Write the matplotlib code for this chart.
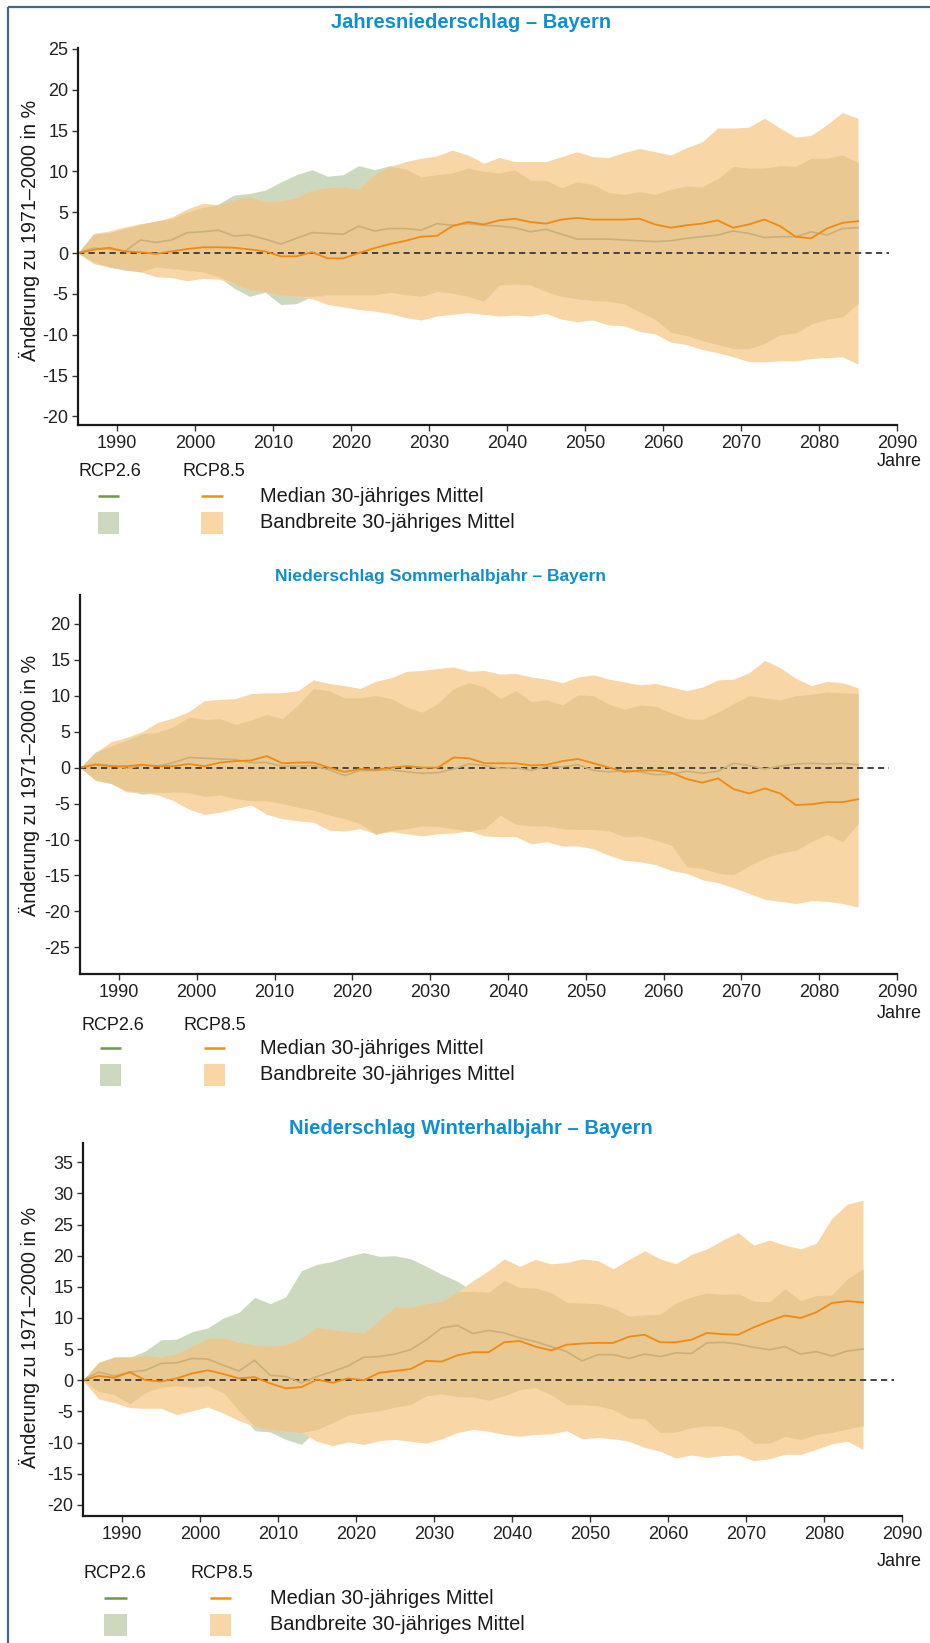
import numpy as np
import matplotlib
matplotlib.use('Agg')
import matplotlib.pyplot as plt
from matplotlib.patches import Rectangle

plt.rcParams['font.family'] = ['Liberation Sans', 'DejaVu Sans']
plt.rcParams['axes.unicode_minus'] = False

jahre = np.arange(1985, 2086, 2)

# --- Jahresniederschlag ---
jahr_85_hi = [0, 2.4, 2.7, 3.2, 3.6, 3.9, 4.4, 5.4, 6.1, 5.9, 6.5, 6.9, 6.3, 6.4, 6.8, 7.7, 8.0, 8.1, 7.8, 9.6,
              10.6, 11.2, 11.6, 11.9, 12.6, 12.0, 11.0,
              11.7, 11.2, 11.2, 11.2, 11.8, 12.4, 11.8, 11.7, 12.3, 12.8, 12.4, 12.0, 12.9, 13.6, 15.3, 15.3,
              15.4, 16.5, 15.3, 14.2, 14.4, 15.7, 17.2, 16.5]
jahr_85_lo = [0, -1.3, -1.7, -2.0, -2.3, -2.9, -3.0, -3.4, -3.1, -3.2, -3.7, -4.5, -4.7, -5.1, -5.3, -5.6, -6.3,
              -6.6, -6.9, -7.1, -7.4, -7.9, -8.2, -7.7, -7.5, -7.3, -7.5,
              -7.7, -7.6, -7.7, -7.4, -8.1, -8.4, -8.2, -8.8, -8.9, -9.6, -9.9, -10.9, -11.2, -11.8, -12.2,
              -12.7, -13.3, -13.3, -13.2, -13.2, -12.9, -12.8, -12.7, -13.6]
jahr_26_hi = [0, 2.3, 2.5, 3.0, 3.5, 3.9, 4.2, 5.0, 5.6, 6.0, 7.1, 7.3, 7.7, 8.7, 9.6, 10.2, 9.4, 9.6, 10.7, 10.2,
              10.7, 10.3, 9.3, 9.6, 9.8, 10.4, 10.0,
              9.8, 10.2, 8.9, 8.9, 8.0, 8.7, 8.4, 7.4, 7.2, 7.5, 7.2, 7.8, 8.2, 8.1, 9.1, 10.6, 10.4, 10.4,
              10.7, 10.6, 11.6, 11.6, 12.0, 11.1]
jahr_26_lo = [0, -1.1, -1.7, -2.1, -2.3, -1.7, -1.9, -2.1, -2.3, -2.9, -4.3, -5.3, -4.8, -6.3, -6.2, -5.3, -5.1,
              -5.1, -5.1, -5.1, -4.8, -5.1, -5.3, -4.7, -4.9, -5.3, -5.9,
              -3.9, -3.8, -3.9, -4.7, -5.3, -5.6, -5.8, -5.9, -6.2, -7.2, -8.1, -9.7, -10.1, -10.7, -11.2,
              -11.7, -11.7, -11.1, -10.0, -9.8, -8.7, -8.1, -7.8, -6.2]
jahr_85_med = [0, 0.4, 0.65, 0.2, 0.1, -0.1, 0.2, 0.5, 0.7, 0.7, 0.65, 0.45, 0.2, -0.4, -0.4, 0.1, -0.65, -0.65,
               0.0, 0.6, 1.1, 1.5, 2.0, 2.1, 3.3, 3.8, 3.5,
               4.0, 4.2, 3.8, 3.6, 4.1, 4.3, 4.1, 4.1, 4.1, 4.2, 3.5, 3.1, 3.4, 3.6, 4.0, 3.1, 3.5, 4.1, 3.3,
               2.0, 1.8, 3.0, 3.7, 3.9]
jahr_26_med = [0, 0.6, 0.5, 0.2, 1.6, 1.3, 1.6, 2.5, 2.6, 2.8, 2.1, 2.2, 1.7, 1.1, 1.8, 2.5, 2.4, 2.3, 3.3, 2.7,
               3.0, 3.0, 2.8, 3.6, 3.4, 3.6, 3.4,
               3.3, 3.1, 2.6, 2.9, 2.3, 1.7, 1.7, 1.7, 1.6, 1.5, 1.4, 1.5, 1.8, 2.0, 2.2, 2.7, 2.4, 1.9, 2.0,
               2.0, 2.6, 2.2, 3.0, 3.1]

# --- Sommerhalbjahr ---
som_85_hi = [0, 2.1, 3.6, 4.2, 5.0, 6.3, 6.9, 7.8, 9.3, 9.5, 9.6, 10.3, 10.4, 10.4, 10.7, 12.2, 11.7, 11.4, 11.0,
             12.0, 12.5, 13.4, 13.5, 13.8, 14.0, 13.4, 13.5,
             13.0, 13.1, 12.6, 12.3, 11.8, 12.6, 12.9, 12.3, 11.9, 11.5, 11.7, 11.2, 10.7, 11.2, 12.2, 12.3,
             13.2, 14.9, 13.9, 12.4, 11.4, 12.0, 11.8, 11.1]
som_85_lo = [0, -1.8, -2.2, -3.4, -3.4, -3.8, -4.6, -5.8, -6.5, -6.2, -5.7, -5.2, -6.5, -7.1, -7.4, -7.6, -8.7,
             -8.8, -8.5, -9.2, -8.9, -9.2, -9.5, -9.2, -9.1, -8.8, -9.5,
             -9.6, -9.6, -10.6, -10.3, -10.9, -10.9, -11.3, -12.2, -12.9, -13.1, -13.5, -14.3, -14.7, -15.6,
             -16.0, -16.7, -17.5, -18.3, -18.6, -18.9, -18.5, -18.6, -18.9, -19.4]
som_26_hi = [0, 2.2, 3.0, 3.8, 4.7, 4.9, 5.7, 7.0, 6.7, 6.8, 6.0, 6.6, 7.4, 6.8, 8.7, 11.0, 10.7, 9.7, 9.7, 10.0,
             9.6, 8.4, 7.7, 8.9, 11.0, 11.8, 11.2,
             9.6, 10.7, 9.2, 9.4, 8.7, 10.1, 10.0, 8.8, 8.1, 8.7, 8.5, 7.6, 6.8, 6.7, 7.7, 8.9, 10.0, 9.7, 9.4,
             10.0, 10.2, 10.5, 10.4, 10.3]
som_26_lo = [0, -1.7, -2.2, -3.2, -3.7, -3.5, -3.4, -3.5, -4.0, -3.8, -4.3, -4.6, -4.6, -5.0, -5.5, -5.9, -6.6,
             -7.1, -7.8, -9.3, -8.7, -8.5, -8.1, -8.2, -8.5, -8.9, -8.5,
             -6.6, -7.9, -8.1, -8.1, -8.5, -8.6, -8.6, -8.8, -9.6, -9.5, -10.1, -10.8, -13.8, -14.0, -14.7,
             -14.9, -13.6, -12.6, -11.9, -11.5, -10.3, -9.3, -10.3, -7.8]
som_85_med = [0, 0.4, 0.2, 0.2, 0.4, 0.2, 0.2, 0.5, 0.2, 0.7, 0.9, 1.0, 1.6, 0.6, 0.7, 0.7, 0.0, -0.6, -0.2, -0.3,
              0.0, 0.2, 0.0, 0.0, 1.4, 1.3, 0.6,
              0.6, 0.6, 0.3, 0.4, 0.9, 1.2, 0.6, 0.0, -0.6, -0.4, -0.4, -0.7, -1.6, -2.1, -1.5, -3.0, -3.6,
              -2.9, -3.6, -5.2, -5.1, -4.8, -4.8, -4.4]
som_26_med = [0, 0.5, 0.3, -0.1, 0.3, 0.2, 0.7, 1.4, 1.3, 1.2, 1.1, 0.7, 0.7, 0.2, 0.2, 0.3, -0.3, -1.1, -0.4,
              -0.4, -0.3, -0.6, -0.8, -0.7, -0.2, 0.5, 0.3,
              -0.1, 0.0, -0.4, 0.2, 0.1, 0.4, -0.4, -0.6, -0.4, -0.6, -1.0, -0.9, -0.5, -0.8, -0.5, 0.6, 0.3,
              -0.2, 0.2, 0.5, 0.6, 0.5, 0.6, 0.4]

# --- Winterhalbjahr ---
win_85_hi = [0, 2.9, 3.7, 3.8, 4.0, 3.7, 4.3, 5.5, 6.7, 6.8, 6.1, 5.7, 5.5, 5.7, 6.8, 8.5, 8.1, 7.8, 7.6, 9.6,
             11.8, 11.7, 12.3, 12.7, 14.2, 16.0, 17.6,
             19.5, 18.3, 19.4, 18.7, 18.9, 19.5, 19.2, 17.9, 19.4, 20.8, 19.5, 18.7, 20.2, 21.1, 22.5, 23.7,
             21.7, 22.5, 21.7, 21.1, 22.0, 26.0, 28.3, 28.9]
win_85_lo = [0, -3.0, -3.6, -4.4, -4.5, -4.5, -5.5, -4.9, -4.3, -5.3, -6.5, -7.4, -7.9, -8.2, -8.4, -9.8, -10.5,
             -9.9, -10.3, -9.7, -9.5, -9.8, -10.1, -9.4, -8.4, -7.9, -8.2,
             -8.7, -9.0, -8.7, -8.6, -8.1, -9.4, -9.2, -9.4, -9.8, -10.8, -11.4, -12.5, -12.0, -12.4, -12.1,
             -12.0, -12.9, -12.6, -11.9, -11.9, -11.1, -10.2, -9.8, -11.1]
win_26_hi = [0, 2.8, 3.7, 3.7, 4.7, 6.5, 6.6, 7.8, 8.4, 10.0, 10.9, 13.3, 12.3, 13.4, 17.6, 18.6, 19.1, 19.9, 20.5,
             19.9, 20.0, 19.5, 18.3, 17.0, 15.9, 14.3, 14.1,
             16.0, 14.9, 14.8, 14.1, 12.5, 12.4, 12.3, 11.6, 10.3, 10.5, 10.6, 12.4, 13.4, 14.0, 13.8, 13.9,
             12.7, 12.6, 14.7, 12.8, 13.6, 13.7, 16.3, 17.9]
win_26_lo = [0, -1.8, -2.3, -3.8, -2.0, -1.1, -0.9, -1.1, -0.9, -2.0, -4.9, -8.1, -8.3, -9.5, -10.3, -7.9, -6.8,
             -5.6, -5.2, -4.9, -4.3, -3.9, -2.5, -2.2, -2.6, -2.7, -3.2,
             -2.5, -1.5, -1.2, -2.3, -3.9, -3.9, -4.1, -4.7, -6.1, -6.2, -8.4, -8.3, -7.6, -7.3, -7.4, -8.1,
             -10.1, -10.1, -9.0, -9.5, -8.7, -8.4, -7.8, -7.3]
win_85_med = [0, 0.7, 0.4, 1.3, 0.0, -0.2, 0.3, 1.1, 1.6, 1.0, 0.3, 0.5, -0.5, -1.3, -1.1, 0.1, -0.4, 0.3, 0.0,
              1.2, 1.5, 1.8, 3.1, 3.0, 4.0, 4.5, 4.5,
              6.1, 6.3, 5.4, 4.8, 5.7, 5.9, 6.0, 6.0, 7.0, 7.3, 6.1, 6.1, 6.5, 7.6, 7.4, 7.3, 8.5, 9.5, 10.4,
              10.0, 10.9, 12.4, 12.7, 12.5]
win_26_med = [0, 1.3, 0.7, 1.3, 1.6, 2.7, 2.8, 3.5, 3.4, 2.4, 1.5, 3.2, 0.8, 0.6, -0.4, 0.6, 1.4, 2.3, 3.7, 3.8,
              4.2, 4.9, 6.5, 8.4, 8.8, 7.5, 8.0,
              7.6, 6.8, 6.2, 5.4, 4.6, 3.1, 4.1, 4.1, 3.5, 4.2, 3.8, 4.4, 4.3, 6.0, 6.1, 5.8, 5.3, 4.9, 5.4,
              4.2, 4.6, 3.9, 4.7, 5.0]

titel = ['Jahresniederschlag – Bayern',
         'Niederschlag Sommerhalbjahr – Bayern',
         'Niederschlag Winterhalbjahr – Bayern']
ylabel = 'Änderung zu 1971–2000 in %'
legende_rcp = ['RCP2.6', 'RCP8.5']
legende_txt = ['Median 30-jähriges Mittel', 'Bandbreite 30-jähriges Mittel']

# Farben
gruen_band = '#ccd9bf'
orange_band = '#f9d6a6'
overlap = '#e9c892'
gruen_med = '#c9b07a'
orange_med = '#f08a12'
gruen_leg = '#6c9a4a'
orange_leg = '#f39200'
blau = '#0d8fd1'

W, H = 930, 1643
fig = plt.figure(figsize=(W / 100, H / 100), dpi=100)

# Overlay-Achse in Pixelkoordinaten fuer Texte, Legende, Rahmen
ov = fig.add_axes([0, 0, 1, 1])
ov.set_xlim(0, W)
ov.set_ylim(H, 0)
ov.axis('off')


def zeichne(box, ylim, yticks, hi85, lo85, hi26, lo26, med85, med26):
    l, t, r, b = box
    ax = fig.add_axes([l / W, 1 - b / H, (r - l) / W, (b - t) / H])
    hi85, lo85 = np.array(hi85), np.array(lo85)
    hi26, lo26 = np.array(hi26), np.array(lo26)
    ax.fill_between(jahre, lo26, hi26, color=gruen_band, lw=0)
    ax.fill_between(jahre, lo85, hi85, color=orange_band, lw=0)
    olo = np.maximum(lo85, lo26)
    ohi = np.minimum(hi85, hi26)
    ax.fill_between(jahre, olo, ohi, where=ohi >= olo, interpolate=True, color=overlap, lw=0)
    ax.plot([1985, 2089], [0, 0], color='#444444', lw=1.4, ls=(0, (3.2, 2.2)))
    ax.plot(jahre, med26, color=gruen_med, lw=1.2)
    ax.plot(jahre, med85, color=orange_med, lw=1.3)
    ax.set_xlim(1985, 2090)
    ax.set_ylim(*ylim)
    ax.set_xticks(range(1990, 2091, 10))
    ax.set_yticks(yticks)
    for s in ['top', 'right']:
        ax.spines[s].set_visible(False)
    for s in ['left', 'bottom']:
        ax.spines[s].set_linewidth(1.6)
        ax.spines[s].set_color('#1a1a1a')
    ax.tick_params(direction='out', length=4, width=1, color='#333333',
                   labelsize=13, labelcolor='#222222', pad=3)
    ax.patch.set_alpha(0)
    return ax


# Panel 1
zeichne((78, 48, 897, 425), (-21.05, 25.1), range(-20, 26, 5),
        jahr_85_hi, jahr_85_lo, jahr_26_hi, jahr_26_lo, jahr_85_med, jahr_26_med)
# Panel 2
zeichne((80, 595, 897, 974), (-28.7, 24), range(-25, 21, 5),
        som_85_hi, som_85_lo, som_26_hi, som_26_lo, som_85_med, som_26_med)
# Panel 3
zeichne((83, 1143, 902, 1516), (-21.8, 38.1), range(-20, 36, 5),
        win_85_hi, win_85_lo, win_26_hi, win_26_lo, win_85_med, win_26_med)

# Titel, y-Beschriftung, "Jahre"
for (cx, cy, fs), txt in zip([(471, 23, 14.5), (440, 576, 12.6), (471, 1128, 14.5)], titel):
    ov.text(cx, cy, txt, ha='center', va='center', fontsize=fs, fontweight='bold', color=blau)
for cy in [230, 785, 1337]:
    ov.text(29, cy, ylabel, rotation=90, ha='center', va='center', fontsize=14.2, color='#1a1a1a')
for cy in [461, 1013, 1562]:
    ov.text(922, cy, 'Jahre', ha='right', va='center', fontsize=13, color='#1a1a1a')

# Legenden: (rcp_y, med_y, band_y, box_h, x26, x85, line26, line85, textx)
legs = [(472, 496, 523, 22, 78, 182, (98, 119), (201, 223), 260),
        (1026, 1048, 1075, 22, 81, 183, (100, 121), (204, 225), 260),
        (1574, 1598, 1625, 22, 83, 190, (104, 127), (210, 231), 270)]
for ry, my, by, bh, x26, x85, l26, l85, tx in legs:
    ov.text(x26, ry, legende_rcp[0], ha='left', va='center', fontsize=13, color='#1a1a1a')
    ov.text(x85, ry, legende_rcp[1], ha='left', va='center', fontsize=13, color='#1a1a1a')
    ov.plot(l26, [my, my], color=gruen_leg, lw=1.8, solid_capstyle='butt')
    ov.plot(l85, [my, my], color=orange_leg, lw=1.8, solid_capstyle='butt')
    ov.add_patch(Rectangle((l26[0], by - bh / 2), l26[1] - l26[0], bh, color=gruen_band, lw=0))
    ov.add_patch(Rectangle((l85[0], by - bh / 2), l85[1] - l85[0], bh, color=orange_band, lw=0))
    ov.text(tx, my, legende_txt[0], ha='left', va='center', fontsize=14.4, color='#1a1a1a')
    ov.text(tx, by, legende_txt[1], ha='left', va='center', fontsize=14.4, color='#1a1a1a')

# Rahmen
ov.plot([8, 8], [7, H], color='#3f6a85', lw=1.6, solid_capstyle='butt')
ov.plot([8, W], [7, 7], color='#3f6a85', lw=1.6, solid_capstyle='butt')

fig.savefig('out.png', dpi=100)
